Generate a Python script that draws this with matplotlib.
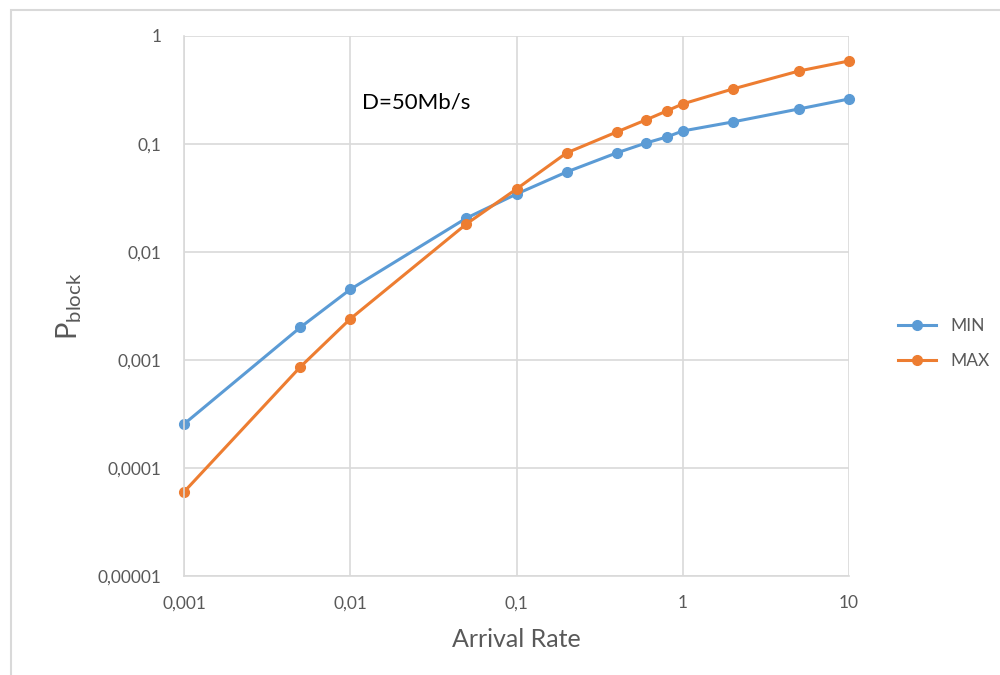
import matplotlib
matplotlib.use("Agg")
import matplotlib.pyplot as plt
from matplotlib.patches import Rectangle

# data
rate = [0.001, 0.005, 0.01, 0.05, 0.1, 0.2, 0.4, 0.6, 0.8, 1, 2, 5, 10]
p_min = [2.55e-4, 2.0e-3, 4.5e-3, 0.0206, 0.0344, 0.055, 0.0826, 0.102, 0.116, 0.132, 0.16, 0.211, 0.261]
p_max = [6.0e-5, 8.6e-4, 2.4e-3, 0.0182, 0.0383, 0.0826, 0.129, 0.167, 0.202, 0.235, 0.323, 0.474, 0.587]

xticks = [0.001, 0.01, 0.1, 1, 10]
xlabels = ["0,001", "0,01", "0,1", "1", "10"]
yticks = [1e-5, 1e-4, 1e-3, 1e-2, 1e-1, 1]
ylabels = ["0,00001", "0,0001", "0,001", "0,01", "0,1", "1"]

plt.rcParams['font.family'] = ['Lato', 'DejaVu Sans']
txt = '#595959'
grid = '#d9d9d9'
blue = '#5b9bd5'
orange = '#ed7d31'

fig = plt.figure(figsize=(10, 6.75), dpi=100)
fig.patches.append(Rectangle((0.0105, -0.1), 1.2, 1.085, transform=fig.transFigure,
                             fill=False, edgecolor='#d9d9d9', linewidth=1.5))
ax = fig.add_axes([0.184, 0.1467, 0.665, 0.8])

ax.plot(rate, p_min, color=blue, linewidth=2.2, marker='o', markersize=7, label='MIN', clip_on=False)
ax.plot(rate, p_max, color=orange, linewidth=2.2, marker='o', markersize=7, label='MAX', clip_on=False)

ax.set_xscale('log')
ax.set_yscale('log')
ax.set_xlim(0.001, 10)
ax.set_ylim(1e-5, 1)
ax.set_xticks(xticks)
ax.set_xticklabels(xlabels)
ax.set_yticks(yticks)
ax.set_yticklabels(ylabels)
ax.minorticks_off()
ax.tick_params(length=0, labelsize=12.5, colors=txt)
ax.tick_params(axis='x', pad=14)
ax.tick_params(axis='y', pad=16)
ax.grid(True, color=grid, linewidth=1.2)
ax.set_axisbelow(True)
for s in ['top', 'right']:
    ax.spines[s].set_visible(False)
for s in ['left', 'bottom']:
    ax.spines[s].set_color(grid)
    ax.spines[s].set_linewidth(1.2)

ax.set_xlabel('Arrival Rate', fontsize=18, color=txt, labelpad=12)
ax.set_ylabel('P$_{\\mathregular{block}}$', fontsize=21, color=txt, labelpad=10)
ax.text(0.268, 0.865, 'D=50Mb/s', transform=ax.transAxes, fontsize=16, color='black')

ax.legend(loc='center left', bbox_to_anchor=(1.05, 0.43), frameon=False,
          fontsize=12.5, labelcolor=txt, handlelength=2.2, labelspacing=1.1)

fig.savefig('out.png', dpi=100)
